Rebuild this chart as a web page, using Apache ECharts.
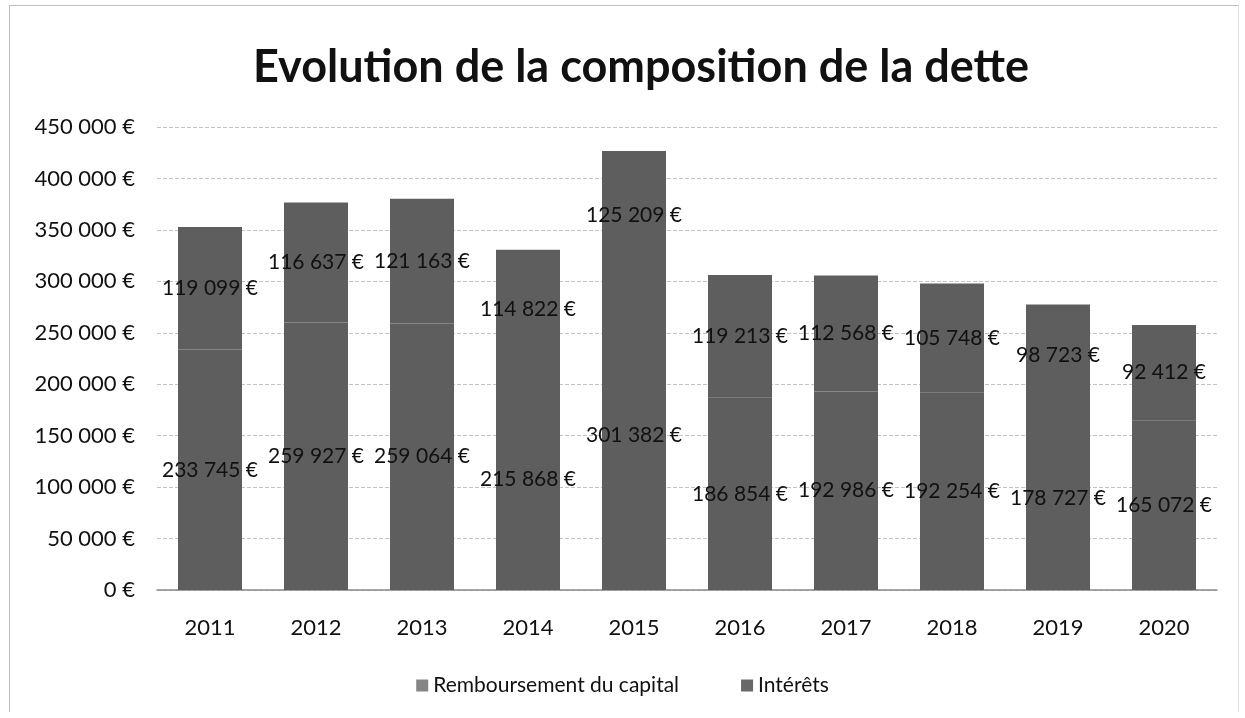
<!DOCTYPE html>
<html>
<head>
<meta charset="utf-8">
<script src="https://cdn.jsdelivr.net/npm/echarts@6/dist/echarts.min.js"></script>
<style>
    html, body {margin: 0; padding: 0; background: #fff;}
    #frame {position: absolute; left: 9px; top: 5px; width: 1228px; height: 706px; border: 1px solid #bdbdbd; border-bottom: none; border-right: 1px solid #e2e2e2;}
    #main {position: absolute; left: 0; top: 0; width: 1245px; height: 718px;}
</style>
</head>
<body>
<div id="frame"></div>
<div id="main"></div>
<script>
    // données
    var years = ['2011', '2012', '2013', '2014', '2015', '2016', '2017', '2018', '2019', '2020'];
    var capital = [233745, 259927, 259064, 215868, 301382, 186854, 192986, 192254, 178727, 165072];
    var interets = [119099, 116637, 121163, 114822, 125209, 119213, 112568, 105748, 98723, 92412];
    var seriesNames = ['Remboursement du capital', 'Intérêts'];

    var font = 'Lato, "Open Sans", sans-serif';

    // 450000 -> "450 000 €"
    function euro(v) {
        return String(Math.round(v)).replace(/\B(?=(\d{3})+(?!\d))/g, ' ') + ' €';
    }

    var labelStyle = {
        show: true,
        position: 'inside',
        color: '#111',
        fontFamily: font,
        fontSize: 21,
        formatter: function (p) {
            return euro(p.value);
        }
    };

    // même gris pour les deux segments, bordure pour masquer la jointure
    var barStyle = {color: '#5e5e5e', borderColor: '#5e5e5e', borderWidth: 2};

    var opt = {
        animation: false,
        title: {
            text: 'Evolution de la composition de la dette',
            left: 248,
            top: 40,
            textStyle: {
                fontFamily: font,
                fontWeight: 'bold',
                fontSize: 45,
                color: '#111'
            }
        },
        legend: {
            data: [
                {name: seriesNames[0], itemStyle: {color: '#858585', borderWidth: 0}},
                {name: seriesNames[1], itemStyle: {color: '#686868', borderWidth: 0}}
            ],
            bottom: 17,
            left: 'center',
            itemWidth: 12,
            itemHeight: 12,
            itemGap: 62,
            icon: 'rect',
            textStyle: {
                fontFamily: font,
                fontSize: 21,
                color: '#111'
            }
        },
        grid: {
            left: 157,
            right: 28,
            top: 127,
            bottom: 128
        },
        xAxis: [{
            type: 'category',
            data: years,
            axisTick: {show: false},
            axisLine: {lineStyle: {color: '#8a8a8a', width: 1.5}},
            axisLabel: {
                color: '#111',
                fontFamily: font,
                fontSize: 22,
                margin: 27
            }
        }],
        yAxis: [{
            type: 'value',
            min: 0,
            max: 450000,
            interval: 50000,
            splitLine: {
                lineStyle: {
                    type: 'dashed',
                    color: '#c4c4c4'
                }
            },
            axisLabel: {
                color: '#111',
                fontFamily: font,
                fontSize: 22,
                margin: 22,
                formatter: euro
            }
        }],
        series: [
            {
                name: seriesNames[0],
                type: 'bar',
                stack: 'dette',
                data: capital,
                barWidth: 64,
                itemStyle: barStyle,
                label: labelStyle
            },
            {
                name: seriesNames[1],
                type: 'bar',
                stack: 'dette',
                data: interets,
                barWidth: 64,
                itemStyle: barStyle,
                label: labelStyle
            }
        ]
    };

    var myChart = echarts.init(document.getElementById('main'));
    myChart.setOption(opt);
</script>
</body>
</html>
